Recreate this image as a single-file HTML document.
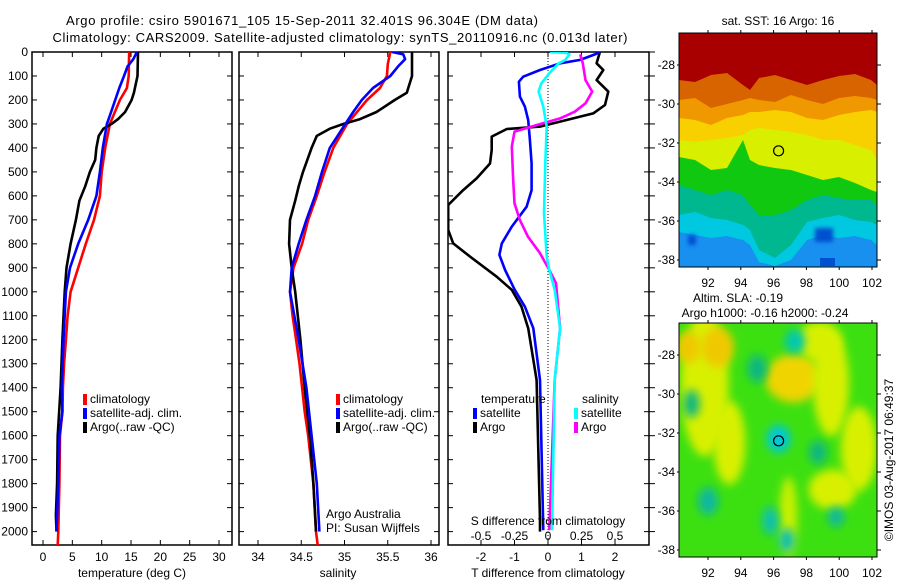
<!DOCTYPE html>
<html><head><meta charset="utf-8"><style>
html,body{margin:0;padding:0;background:#fff;}
svg{display:block;font-family:"Liberation Sans",Arial,sans-serif;}
text{font-size:12px;fill:#000;}
</style></head><body>
<svg id="fig" width="900" height="580" viewBox="0 0 900 580" xmlns="http://www.w3.org/2000/svg">
<defs>
<clipPath id="c1"><rect x="32" y="52" width="200" height="493"/></clipPath>
<clipPath id="c2"><rect x="239" y="52" width="200" height="493"/></clipPath>
<clipPath id="c3"><rect x="448" y="52" width="201" height="493"/></clipPath>
<clipPath id="cm1"><rect x="679" y="33" width="198" height="234"/></clipPath>
<clipPath id="cm2"><rect x="679" y="323" width="198" height="234"/></clipPath>
<filter id="bl" x="-50%" y="-50%" width="200%" height="200%"><feGaussianBlur stdDeviation="4.5"/></filter>
<filter id="bl2" x="-50%" y="-50%" width="200%" height="200%"><feGaussianBlur stdDeviation="2"/></filter>
</defs>
<text x="302" y="25" text-anchor="middle" textLength="472" style="font-size:13px">Argo profile: csiro 5901671_105 15-Sep-2011 32.401S 96.304E (DM data)</text>
<text x="340" y="42" text-anchor="middle" textLength="575" style="font-size:13px">Climatology: CARS2009. Satellite-adjusted climatology: synTS_20110916.nc (0.013d later)</text>

<g id="maps"></g>
<g id="axes"></g>
<g id="series"></g>
<g id="labels"></g>
<text transform="translate(893,460) rotate(-90)" text-anchor="middle" style="font-size:12px">©IMOS 03-Aug-2017 06:49:37</text>
</svg>
<script>
// ---- data ----
const depthTicks=[0,100,200,300,400,500,600,700,800,900,1000,1100,1200,1300,1400,1500,1600,1700,1800,1900,2000];
const tempTicks=[0,5,10,15,20,25,30];
const salTicks=[34,34.5,35,35.5,36];
const tdiffTicks=[-2,-1,0,1,2];
const sdiffTicks=[-0.5,-0.25,0,0.25,0.5];
const sdiffLabels=["-0.5","-0.25","0","0.25","0.5"];

const climDepth=[0,50,100,150,200,300,400,500,600,700,800,900,1000,1100,1200,1300,1400,1500,1600,1800,2000,2056];
const climTemp=[14.7,14.65,14.6,14.3,13.1,11.4,10.6,10.0,9.7,8.7,7.3,6.0,4.7,4.2,3.9,3.6,3.4,3.3,2.9,2.8,2.6,2.5];
const climSal=[35.53,35.50,35.49,35.41,35.26,35.03,34.87,34.77,34.68,34.58,34.51,34.41,34.37,34.40,34.44,34.48,34.51,34.54,34.58,34.64,34.67,34.69];

const satDepth=[0,10,30,60,100,150,200,250,300,400,500,600,700,800,900,1000,1200,1400,1500,1600,1800,2000];
const satTemp=[16.0,15.8,15.4,14.4,13.8,13.0,12.3,11.6,10.9,10.2,9.7,9.1,7.7,6.0,4.6,3.9,3.5,3.2,3.3,2.8,2.6,2.3];
const satSal=[35.55,35.68,35.70,35.62,35.53,35.33,35.20,35.10,35.01,34.83,34.74,34.66,34.56,34.47,34.39,34.37,34.47,34.56,34.59,34.62,34.68,34.71];

const argoDepth=[0,100,170,200,250,280,300,320,350,400,450,500,560,620,700,800,900,1000,1200,1400,1600,1800,1930,2000];
const argoTemp=[16.2,16.1,15.5,15.1,14.0,12.8,11.7,10.3,9.5,9.1,8.9,8.0,7.2,6.2,5.6,4.7,4.0,3.7,3.3,3.0,2.5,2.4,2.2,2.3];
const argoSal=[35.78,35.78,35.72,35.58,35.37,35.18,34.99,34.83,34.68,34.62,34.57,34.52,34.47,34.43,34.37,34.36,34.39,34.43,34.49,34.54,34.60,34.64,34.66,34.67];

const tdSatDepth=[0,10,33,47,75,103,124,186,228,284,367,465,576,645,728,798,846,909,992,1062,1152,1368,1994];
const tdSat=[1.55,1.40,0.96,0.36,-0.24,-0.74,-0.87,-0.84,-0.69,-0.59,-0.54,-0.49,-0.49,-0.64,-1.08,-1.38,-1.45,-1.28,-0.99,-0.69,-0.44,-0.24,-0.14];
const tdArgoDepth=[0,47,75,117,165,221,256,277,311,321,353,409,465,527,576,638,742,798,853,937,992,1062,1152,1368,1952,2000];
const tdArgo=[1.55,1.45,1.65,1.45,1.80,1.70,1.35,0.75,-0.24,-1.23,-1.68,-1.68,-1.73,-2.13,-2.53,-2.98,-2.98,-2.83,-2.33,-1.53,-1.08,-0.79,-0.59,-0.34,-0.24,-0.24];
const sdSatDepth=[0,4,10,33,47,89,131,165,228,311,465,673,853,909,992,1152,1368,1994];
const sdSat=[0.015,0.14,0.16,0.13,0.08,0.01,-0.05,-0.07,-0.035,-0.01,-0.02,-0.03,-0.01,0.01,0.05,0.09,0.05,0.03];
const sdArgoDepth=[10,47,117,165,214,249,277,304,332,395,534,631,701,770,839,909,964,1152,1368,1994];
const sdArgo=[0.24,0.26,0.28,0.33,0.28,0.20,0.09,-0.08,-0.25,-0.27,-0.26,-0.25,-0.21,-0.15,-0.06,0.01,0.06,0.09,0.05,0.01];

// ---- scales ----
const yD=d=>52+d*0.2398;
const xT=t=>43+t*5.8667;
const xS=s=>258+(s-34)*86.5;
const xTD=t=>548+t*33.5;
const xSD=s=>548+s*134;
const NS="http://www.w3.org/2000/svg";
function mk(tag,at,parent){const e=document.createElementNS(NS,tag);for(const k in at)e.setAttribute(k,at[k]);parent.appendChild(e);return e;}
const axes=document.getElementById('axes'),series=document.getElementById('series'),labels=document.getElementById('labels'),maps=document.getElementById('maps');

function txt(x,y,s,anchor,parent,name,size){const t=mk('text',{x:x,y:y,'text-anchor':anchor||'start'},parent);if(size)t.style.fontSize=size+'px';t.textContent=s;


return t;}

// panels
const panels=[{x:32,w:200,n:'temperature-panel'},{x:239,w:200,n:'salinity-panel'},{x:448,w:201,n:'difference-panel'}];
panels.forEach(p=>{
 const r=mk('rect',{x:p.x,y:52,width:p.w,height:493,fill:'none',stroke:'#000','stroke-width':1.5},axes);
 
 
 depthTicks.forEach(d=>{const y=yD(d);
  mk('line',{x1:p.x,x2:p.x+5,y1:y,y2:y,stroke:'#000'},axes);
  mk('line',{x1:p.x+p.w-5,x2:p.x+p.w,y1:y,y2:y,stroke:'#000'},axes);});
});
depthTicks.forEach(d=>{const y=yD(d);mk('line',{x1:649,x2:655,y1:y,y2:y,stroke:'#000'},axes);});
depthTicks.forEach(d=>{txt(28,yD(d)+4,String(d),'end',labels,'depth-tick-label');});
tempTicks.forEach(t=>{const x=xT(t);mk('line',{x1:x,x2:x,y1:52,y2:57,stroke:'#000'},axes);mk('line',{x1:x,x2:x,y1:540,y2:545,stroke:'#000'},axes);txt(x,561,String(t),'middle',labels,'temperature-tick-label');});
salTicks.forEach(s=>{const x=xS(s);mk('line',{x1:x,x2:x,y1:52,y2:57,stroke:'#000'},axes);mk('line',{x1:x,x2:x,y1:540,y2:545,stroke:'#000'},axes);txt(x,561,String(s),'middle',labels,'salinity-tick-label');});
tdiffTicks.forEach(t=>{const x=xTD(t);mk('line',{x1:x,x2:x,y1:52,y2:57,stroke:'#000'},axes);mk('line',{x1:x,x2:x,y1:540,y2:545,stroke:'#000'},axes);txt(x,561,String(t),'middle',labels,'tdiff-tick-label');});
sdiffTicks.forEach((s,i)=>{txt(xSD(s),540,sdiffLabels[i],'middle',labels,'sdiff-tick-label');});
txt(132,577,'temperature (deg C)','middle',labels,'x-axis-title-temperature');
txt(338,577,'salinity','middle',labels,'x-axis-title-salinity');
txt(548,577,'T difference from climatology','middle',labels,'x-axis-title-tdiff');
txt(548,525,'S difference from climatology','middle',labels,'x-axis-title-sdiff');
const zl=mk('line',{x1:xTD(0),x2:xTD(0),y1:52,y2:545,stroke:'#000','stroke-dasharray':'1,2'},axes);



function line(dep,val,sx,color,clip,name){
 const pts=dep.map((d,i)=>sx(val[i]).toFixed(1)+','+yD(d).toFixed(1)).join(' ');
 const g=mk('polyline',{points:pts,fill:'none',stroke:color,'stroke-width':2.6,'stroke-linejoin':'round','clip-path':'url(#'+clip+')'},series);
 
 
}
line(climDepth,climTemp,xT,'#ff0000','c1','temp-climatology-line');
line(argoDepth,argoTemp,xT,'#000000','c1','temp-argo-line');
line(satDepth,satTemp,xT,'#0000ff','c1','temp-satellite-line');
line(climDepth,climSal,xS,'#ff0000','c2','sal-climatology-line');
line(argoDepth,argoSal,xS,'#000000','c2','sal-argo-line');
line(satDepth,satSal,xS,'#0000ff','c2','sal-satellite-line');
line(tdArgoDepth,tdArgo,xTD,'#000000','c3','tdiff-argo-line');
line(tdSatDepth,tdSat,xTD,'#0000ff','c3','tdiff-satellite-line');
line(sdArgoDepth,sdArgo,xSD,'#ff00ff','c3','sdiff-argo-line');
line(sdSatDepth,sdSat,xSD,'#00ffff','c3','sdiff-satellite-line');

function legend(x,y,color,label,name){
 const r=mk('rect',{x:x,y:y-9,width:4,height:11,fill:color},labels);
 
 
 txt(x+7,y,label,'start',labels,name+'-label');
}
legend(83,403,'#ff0000','climatology','legend-climatology');
legend(83,417,'#0000ff','satellite-adj. clim.','legend-satellite');
legend(83,431,'#000000','Argo(..raw -QC)','legend-argo');
legend(336,403,'#ff0000','climatology','legend2-climatology');
legend(336,417,'#0000ff','satellite-adj. clim.','legend2-satellite');
legend(336,431,'#000000','Argo(..raw -QC)','legend2-argo');
txt(481,403,'temperature','start',labels,'legend-temperature-header');
legend(473,417,'#0000ff','satellite','legend-t-satellite');
legend(473,431,'#000000','Argo','legend-t-argo');
txt(582,403,'salinity','start',labels,'legend-salinity-header');
legend(574,417,'#00ffff','satellite','legend-s-satellite');
legend(574,431,'#ff00ff','Argo','legend-s-argo');
txt(326,518,'Argo Australia','start',labels,'credit-argo-australia');
txt(326,532,'PI: Susan Wijffels','start',labels,'credit-pi');

// ---- maps ----
const lonTicks=[92,94,96,98,100,102];
const latTicks=[-28,-30,-32,-34,-36,-38];
const mapX=lon=>708+(lon-92)*16.4;
const mapY=(lat,top)=>top+32+(-28-lat)*19.5;
const bandX=[679,695,711,727,743,750,759,775,791,807,823,839,855,871,877];
const sstBands=[
 {c:'#d86400',t:[80,82,75,73,85,90,78,75,80,85,80,76,74,80,85]},
 {c:'#f09800',t:[100,98,108,104,100,98,100,102,95,100,104,98,96,98,100]},
 {c:'#f8d000',t:[118,120,125,118,115,112,112,110,112,118,120,115,112,110,112]},
 {c:'#d8f000',t:[140,142,140,138,135,130,128,130,132,135,140,140,145,150,160]},
 {c:'#10c810',t:[157,160,170,168,140,160,165,168,170,175,180,177,183,190,192]},
 {c:'#00b890',t:[185,190,195,190,195,205,215,215,210,200,195,198,200,200,205]},
 {c:'#00c8e0',t:[215,212,218,220,225,230,250,258,245,222,218,215,220,222,225]},
 {c:'#1890f0',t:[232,235,238,236,240,245,262,266,260,240,235,238,236,240,245]}
];
function addMap(top,name){
 const g=mk('g',{'clip-path':'url(#'+(top<100?'cm1':'cm2')+')'},maps);
 
 
 return g;
}
const m1=addMap(33,'sst-map');
mk('rect',{x:679,y:33,width:198,height:234,fill:'#a80000'},m1);
sstBands.forEach(b=>{
 let pts=bandX.map((x,i)=>x+','+b.t[i]).join(' ')+' 877,267 679,267';
 mk('polygon',{points:pts,fill:b.c},m1);
});
mk('rect',{x:688,y:235,width:8,height:10,fill:'#0050d0',filter:'url(#bl2)'},m1);
mk('rect',{x:815,y:228,width:18,height:14,fill:'#0050d0',filter:'url(#bl2)'},m1);
mk('rect',{x:820,y:258,width:15,height:8,fill:'#0050d0'},m1);

const m2=addMap(323,'sla-map');
mk('rect',{x:679,y:323,width:198,height:234,fill:'#3ce010'},m2);
const blobs=[
 [91.8,-29.5,24,72,'#d8f000'],[93.3,-32.5,16,42,'#d8f000'],[92.6,-27.6,16,20,'#f0c800'],[90.8,-27.6,12,16,'#f0c800'],
 [97.2,-29.2,28,24,'#f0d400'],[99.5,-29.5,18,52,'#d8f000'],[98.8,-27.3,22,20,'#d8f000'],[101.2,-32.8,18,42,'#d8f000'],
 [99.6,-34.9,24,20,'#d8f000'],[96.9,-36.3,9,40,'#c8f000'],
 [97.3,-27.3,10,12,'#00c8b0'],[96.3,-32.3,12,14,'#00c8d8'],[95.0,-28.7,10,14,'#10b880'],[91.0,-30.5,8,14,'#10b880'],
 [98.7,-33.0,9,12,'#10b880'],[92.0,-35.5,10,14,'#10b8a0'],[95.8,-36.5,8,14,'#10c0b0'],[96.8,-37.5,8,12,'#10c0b0'],[99.8,-36.3,8,10,'#10b8a0']
];
blobs.forEach(b=>{mk('ellipse',{cx:mapX(b[0]),cy:mapY(b[1],323),rx:b[2],ry:b[3],fill:b[4],filter:'url(#bl)'},m2);});

[33,323].forEach((top,k)=>{
 const f=mk('rect',{x:679,y:top,width:198,height:234,fill:'none',stroke:'#000','stroke-width':1},axes);
 
 
 lonTicks.forEach(l=>{const x=mapX(l);mk('line',{x1:x,x2:x,y1:top-3,y2:top,stroke:'#000'},axes);mk('line',{x1:x,x2:x,y1:top+234,y2:top+237,stroke:'#000'},axes);
  txt(x,top+254,String(l),'middle',labels,'map-lon-label');});
 latTicks.forEach(l=>{const y=mapY(l,top);mk('line',{x1:677,x2:679,y1:y,y2:y,stroke:'#000'},axes);mk('line',{x1:877,x2:881,y1:y,y2:y,stroke:'#000'},axes);
  txt(675,y+4,String(l),'end',labels,'map-lat-label');});
 const c=mk('circle',{cx:mapX(96.304),cy:mapY(-32.401,top),r:5,fill:'none',stroke:'#000','stroke-width':1.2},axes);
 
 
});
txt(778,25,'sat. SST: 16 Argo: 16','middle',labels,'sst-map-title');
txt(738,302,'Altim. SLA: -0.19','middle',labels,'sla-map-title');
txt(765,317,'Argo h1000: -0.16 h2000: -0.24','middle',labels,'sla-map-subtitle');
</script>
</body></html>
